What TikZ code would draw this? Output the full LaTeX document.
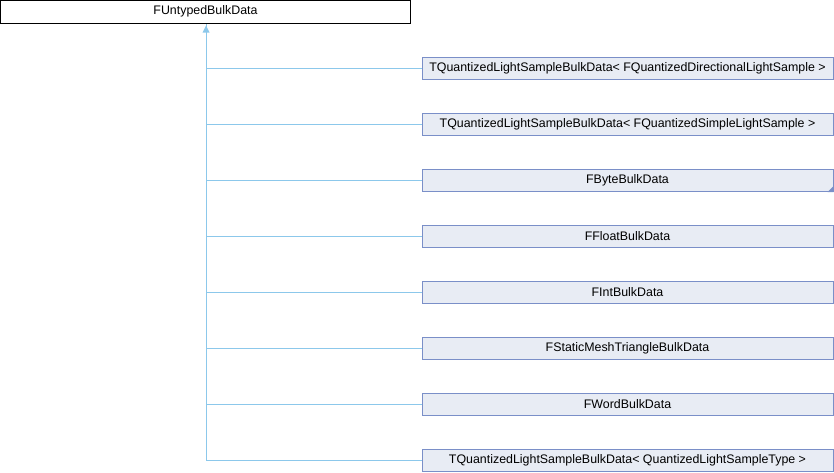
\documentclass[tikz,border=0pt]{standalone}
\usepackage{fontspec}
\setmainfont{Liberation Sans}
\usetikzlibrary{calc}
\begin{document}
\begin{tikzpicture}[x=1pt,y=-1pt,
  basebox/.style={draw=black,fill=white,line width=1pt,minimum height=23pt,inner sep=0pt,font=\fontsize{12.4}{14}\selectfont},
  derbox/.style={draw=derborder,fill=derfill,line width=1pt,minimum width=411pt,minimum height=22pt,inner sep=0pt,font=\fontsize{12.4}{14}\selectfont},
  link/.style={draw=linkcol,line width=0.8pt}]
\definecolor{derfill}{RGB}{232,236,244}
\definecolor{derborder}{RGB}{122,143,200}
\definecolor{linkcol}{RGB}{140,200,235}
\useasboundingbox (0,0) rectangle (834,472);
\node[basebox,minimum width=410pt] (base) at (205.5,11.5) {FUntypedBulkData};
\node[derbox] (d1) at (627.5,68.5) {TQuantizedLightSampleBulkData< FQuantizedDirectionalLightSample >};
\node[derbox] (d2) at (627.5,124.5) {TQuantizedLightSampleBulkData< FQuantizedSimpleLightSample >};
\node[derbox] (d3) at (627.5,180.5) {FByteBulkData};
\node[derbox] (d4) at (627.5,236.5) {FFloatBulkData};
\node[derbox] (d5) at (627.5,292.5) {FIntBulkData};
\node[derbox] (d6) at (627.5,348.5) {FStaticMeshTriangleBulkData};
\node[derbox] (d7) at (627.5,404.5) {FWordBulkData};
\node[derbox] (d8) at (627.5,460.5) {TQuantizedLightSampleBulkData< QuantizedLightSampleType >};
\fill[derborder] (d3.south east) -- ++(0,-6) -- ++(-6,6) -- cycle;
\coordinate (trunk) at (206,0);
\draw[link] (trunk |- d8.west) -- (trunk |- base.south);
\foreach \n in {d1,d2,d3,d4,d5,d6,d7,d8}{
  \draw[link] (trunk |- \n.west) -- (\n.west);
}
\fill[linkcol] ($(trunk |- base.south)+(0,2)$) -- ++(3.5,7) -- ++(-7,0) -- cycle;
\end{tikzpicture}
\end{document}
